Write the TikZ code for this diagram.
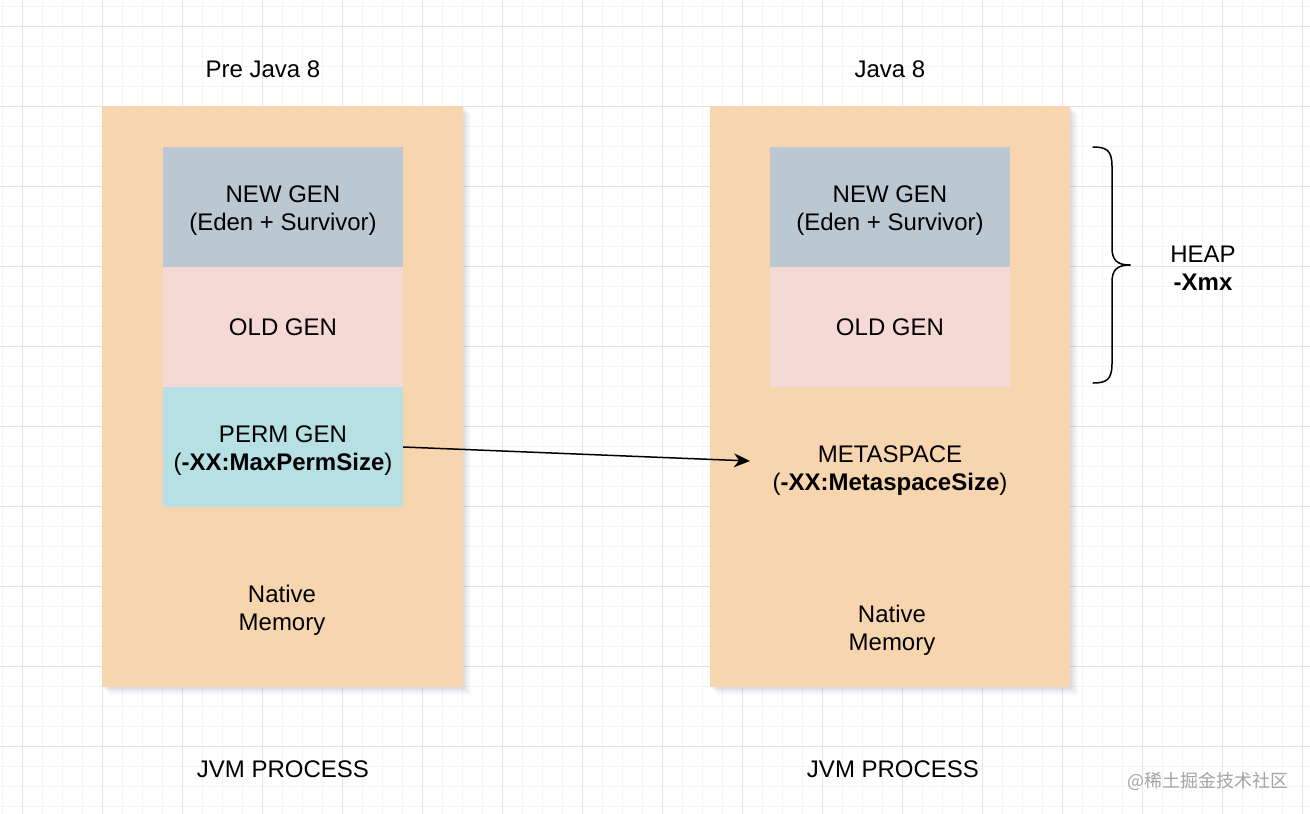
\documentclass[tikz,border=0pt]{standalone}
\usepackage{fontspec}
\setmainfont{Liberation Sans}
\newfontfamily\cjkfont{Noto Sans CJK SC}
\usetikzlibrary{arrows.meta}
\definecolor{procorange}{HTML}{F7D5AE}
\definecolor{newgen}{HTML}{BBC8D2}
\definecolor{oldgen}{HTML}{F5D9D5}
\definecolor{permgen}{HTML}{B6E0E4}
\definecolor{gridminor}{HTML}{F4F4F4}
\definecolor{gridmajor}{HTML}{E2E2E2}
\definecolor{shadowcol}{HTML}{3A3F5C}
\definecolor{wmark}{HTML}{A4A4A4}
\tikzset{
  txt/.style={inner sep=0pt, align=center, font=\fontsize{24}{28}\selectfont},
  procbox/.style={fill=procorange, draw=none, minimum width=#1, minimum height=581pt, inner sep=0pt},
  genbox/.style={fill=#1, draw=none, minimum width=240pt, minimum height=120pt, inner sep=0pt},
  conn/.style={line width=1.5pt, black},
  bracestyle/.style={line width=1.5pt, black, line cap=round}
}
\begin{document}
\begin{tikzpicture}[x=1pt,y=-1pt]
\useasboundingbox (0,0) rectangle (1310,814);
\fill[white] (0,0) rectangle (1310,814);
% grid
\foreach \gx in {2,22,...,1310} {\draw[gridminor, line width=1pt] (\gx,0) -- (\gx,814);}
\foreach \gy in {6,26,...,814} {\draw[gridminor, line width=1pt] (0,\gy) -- (1310,\gy);}
\foreach \gx in {22,102,...,1310} {\draw[gridmajor, line width=1pt] (\gx,0) -- (\gx,814);}
\foreach \gy in {26,106,...,814} {\draw[gridmajor, line width=1pt] (0,\gy) -- (1310,\gy);}
% shadows
\foreach \s/\o in {2/0.06,4/0.05,6/0.04,8/0.03} {
  \fill[shadowcol, opacity=\o] (102+\s,106+\s) rectangle (463+\s,687+\s);
  \fill[shadowcol, opacity=\o] (710+\s,106+\s) rectangle (1070+\s,687+\s);
}
% process boxes
\node[procbox=361pt] (procL) at (282.5,396.5) {};
\node[procbox=360pt] (procR) at (890,396.5) {};
% left generations
\node[genbox=newgen] (newL) at (283,207) {};
\node[genbox=oldgen] (oldL) at (283,327) {};
\node[genbox=permgen] (permL) at (283,447) {};
\node[txt] (newLt) at (283,211) {NEW GEN\\(Eden + Survivor)};
\node[txt] (oldLt) at (283,327) {OLD GEN};
\node[txt] (permLt) at (283,451) {PERM GEN\\(\textbf{-XX:MaxPermSize})};
% right generations
\node[genbox=newgen] (newR) at (890,207) {};
\node[genbox=oldgen] (oldR) at (890,327) {};
\node[txt] (newRt) at (890,211) {NEW GEN\\(Eden + Survivor)};
\node[txt] (oldRt) at (890,327) {OLD GEN};
% texts
\node[txt] (meta) at (890,471) {METASPACE\\(\textbf{-XX:MetaspaceSize})};
\node[txt] (nativeL) at (282,610) {Native\\Memory};
\node[txt] (nativeR) at (892,630) {Native\\Memory};
\node[txt] (titleL) at (263,69) {Pre Java 8};
\node[txt] (titleR) at (890,69) {Java 8};
\node[txt] (jvmL) at (283,769) {JVM PROCESS};
\node[txt] (jvmR) at (893,769) {JVM PROCESS};
\node[txt] (heap) at (1203,268) {HEAP\\\textbf{-Xmx}};
\node[inner sep=0pt, text=wmark, font=\cjkfont\fontsize{18}{22}\selectfont] (wm) at (1208,781) {@稀土掘金技术社区};
% arrow
\coordinate (arrEnd) at (750,461);
\draw[conn, -{Stealth[length=16pt, width=14pt, inset=5pt]}] (permL.east) -- (arrEnd);
% brace
\coordinate (brTop) at (1093,147);
\coordinate (brTip) at (1130,265);
\coordinate (brBot) at (1093,383);
\draw[bracestyle] (brTop) .. controls (1106,147) and (1112,150) .. (1112,166)
  -- (1112,248) .. controls (1112,260) and (1117,265) .. (brTip);
\draw[bracestyle] (brTip) .. controls (1117,265) and (1112,270) .. (1112,282)
  -- (1112,364) .. controls (1112,380) and (1106,383) .. (brBot);
\end{tikzpicture}
\end{document}
